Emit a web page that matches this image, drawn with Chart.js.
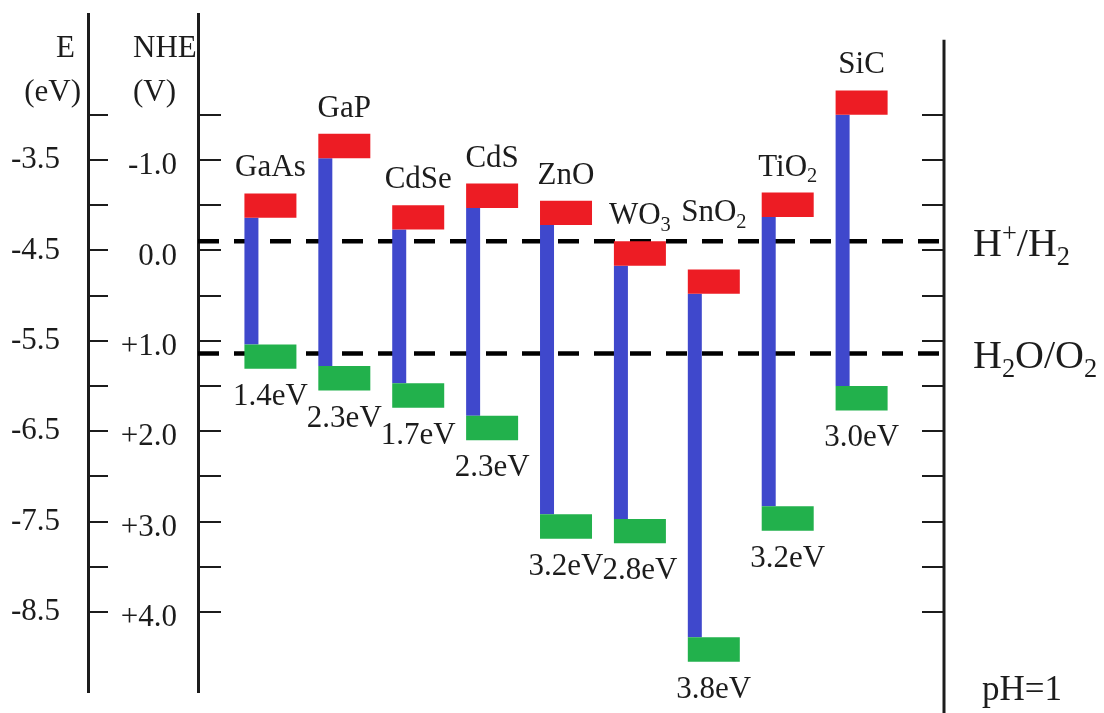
<!DOCTYPE html>
<html>
<head>
<meta charset="utf-8">
<script src="https://cdn.jsdelivr.net/npm/chart.js@4/dist/chart.umd.min.js"></script>
<style>
  html, body { margin: 0; padding: 0; background: #fff; }
  canvas { display: block; }
</style>
</head>
<body>
<canvas id="c" width="1104" height="713"></canvas>
<script>
// Semiconductors and their band edges (eV relative to vacuum)
const materials = ['GaAs', 'GaP', 'CdSe', 'CdS', 'ZnO', 'WO3', 'SnO2', 'TiO2', 'SiC'];
const conductionBand = [-4.14, -3.48, -4.27, -4.03, -4.22, -4.67, -4.98, -4.13, -3.00];
const bandGap = [1.4, 2.3, 1.7, 2.3, 3.2, 2.8, 3.8, 3.2, 3.0];

// Water redox levels at pH = 1 (eV relative to vacuum)
const redoxNames = ['H+/H2', 'H2O/O2'];
const redoxLevels = [-4.40, -5.64];

// Tick positions shared by the vacuum (E) scale and the NHE scale
const eTicks = [-3.0, -3.5, -4.0, -4.5, -5.0, -5.5, -6.0, -6.5, -7.0, -7.5, -8.0, -8.5];
const eTickText = ['', '-3.5', '', '-4.5', '', '-5.5', '', '-6.5', '', '-7.5', '', '-8.5'];
const nheTickText = ['', '-1.0', '', '0.0', '', '+1.0', '', '+2.0', '', '+3.0', '', '+4.0'];

// Valence band edge follows from the conduction band edge and the gap
const valenceBand = conductionBand.map((cb, i) => +(cb - bandGap[i]).toFixed(2));

// ---- layout / style ----
const FONT = '"Liberation Serif", "Times New Roman", serif';
const INK = '#1c1c1c';
const E_MIN = -9.385, E_MAX = -1.885;      // vertical range of the plot
const X_MIN = -0.98, X_MAX = 9.115;        // horizontal range (column units)
const BLOCK = 0.27;                        // thickness of the band-edge blocks (eV)
const GAP_SHIFT = 0.257;                   // gap bar sits at the left edge of the blocks
const RIGHT_AXIS_TOP = -2.17;              // top end of the right-hand axis line

function tickAxis(side, weight, width, tickLen, padding, texts, labelOffset) {
  return {
    type: 'linear', position: side, weight, min: E_MIN, max: E_MAX,
    afterFit: s => { s.width = width; s.paddingTop = 0; s.paddingBottom = 0; },
    afterBuildTicks: s => { s.ticks = eTicks.map(v => ({ value: v })); },
    ticks: {
      display: !!texts, autoSkip: false, padding, labelOffset: labelOffset || 0,
      color: INK, font: { family: FONT, size: 31 },
      callback: (v, i) => (texts ? texts[i] : '')
    },
    grid: { drawOnChartArea: false, drawTicks: true, tickLength: tickLen, lineWidth: 2, color: INK },
    border: { display: side === 'left', width: 3, color: INK }
  };
}

function columnAxis(shift) {
  return {
    type: 'linear', display: false, offset: false, grace: 0,
    min: X_MIN + shift, max: X_MAX + shift,
    afterFit: s => { s.paddingLeft = 0; s.paddingRight = 0; }
  };
}

function drawFormula(ctx, text, x, y, size, align) {
  const runs = [];
  for (const ch of text) {
    const kind = /\d/.test(ch) ? 'sub' : (ch === '+' ? 'sup' : 'base');
    const last = runs[runs.length - 1];
    if (last && last.kind === kind) last.t += ch; else runs.push({ kind, t: ch });
  }
  const small = size * 0.66;
  let total = 0;
  for (const r of runs) {
    ctx.font = `${r.kind === 'base' ? size : small}px ${FONT}`;
    r.w = ctx.measureText(r.t).width;
    total += r.w;
  }
  let cx = align === 'center' ? x - total / 2 : x;
  ctx.textAlign = 'left';
  ctx.textBaseline = 'alphabetic';
  for (const r of runs) {
    ctx.font = `${r.kind === 'base' ? size : small}px ${FONT}`;
    const dy = r.kind === 'sub' ? size * 0.22 : (r.kind === 'sup' ? -size * 0.36 : 0);
    ctx.fillText(r.t, cx, y + dy);
    cx += r.w;
  }
}

function drawText(ctx, text, x, y, size, align) {
  ctx.font = `${size}px ${FONT}`;
  ctx.textAlign = align;
  ctx.textBaseline = 'alphabetic';
  ctx.fillText(text, x, y);
}

const annotations = {
  id: 'bandText',
  afterDraw(chart) {
    const { ctx } = chart;
    const xs = chart.scales.x, ys = chart.scales.yE, yr = chart.scales.yR;
    ctx.save();
    ctx.fillStyle = INK;

    // right-hand axis line
    ctx.strokeStyle = INK;
    ctx.lineWidth = 3;
    ctx.beginPath();
    ctx.moveTo(yr.left, ys.getPixelForValue(RIGHT_AXIS_TOP));
    ctx.lineTo(yr.left, chart.height);
    ctx.stroke();

    // axis titles
    drawText(ctx, 'E', 75, 57, 31, 'right');
    drawText(ctx, '(eV)', 81, 101, 31, 'right');
    drawText(ctx, 'NHE', 133, 57, 31, 'left');
    drawText(ctx, '(V)', 133, 101, 31, 'left');

    const hLine = ys.getPixelForValue(redoxLevels[0]);
    materials.forEach((name, i) => {
      const cx = xs.getPixelForValue(i);
      // material name above the conduction band block, kept clear of the H+/H2 line
      const top = ys.getPixelForValue(conductionBand[i] + BLOCK);
      let base = top - 17;
      if (base + 8 > hLine - 3 && base - 24 < hLine + 3) base = hLine - 20;
      drawFormula(ctx, name, cx, base, 31, 'center');
      // band gap below the valence band block
      const bottom = ys.getPixelForValue(valenceBand[i] - BLOCK);
      drawText(ctx, bandGap[i].toFixed(1) + 'eV', cx, bottom + 36, 31, 'center');
    });

    // redox level names
    redoxNames.forEach((name, i) => {
      drawFormula(ctx, name, 973, ys.getPixelForValue(redoxLevels[i]) + 15, 40, 'left');
    });
    drawText(ctx, 'pH=1', 982, 700, 35, 'left');
    ctx.restore();
  }
};

const columns = materials.map((m, i) => i);

new Chart(document.getElementById('c'), {
  type: 'bar',
  data: {
    datasets: [
      {
        label: 'Conduction band',
        data: columns.map(i => ({ x: i, y: [conductionBand[i], conductionBand[i] + BLOCK] })),
        backgroundColor: '#ED1C24', grouped: false, maxBarThickness: 52,
        inflateAmount: 0, borderWidth: 0, order: 0,
        xAxisID: 'x', yAxisID: 'yE'
      },
      {
        label: 'Valence band',
        data: columns.map(i => ({ x: i, y: [valenceBand[i] - BLOCK, valenceBand[i]] })),
        backgroundColor: '#22B14C', grouped: false, maxBarThickness: 52,
        inflateAmount: 0, borderWidth: 0, order: 0,
        xAxisID: 'x', yAxisID: 'yE'
      },
      {
        label: 'Band gap',
        data: columns.map(i => ({ x: i, y: [valenceBand[i], conductionBand[i]] })),
        backgroundColor: '#3F48CC', grouped: false, maxBarThickness: 14,
        inflateAmount: 0, borderWidth: 0, order: 1,
        xAxisID: 'xb', yAxisID: 'yE'
      },
      ...redoxLevels.map((lvl, i) => ({
        type: 'line',
        label: redoxNames[i],
        data: [{ x: X_MIN, y: lvl }, { x: X_MAX, y: lvl }],
        borderColor: '#000', borderWidth: 4.5, borderDash: [21, 15],
        borderCapStyle: 'butt', pointRadius: 0, tension: 0, order: 2,
        xAxisID: 'x', yAxisID: 'yE'
      }))
    ]
  },
  options: {
    responsive: false,
    animation: false,
    layout: { padding: { top: 14, bottom: 21, left: 0, right: 0 } },
    plugins: { legend: { display: false }, tooltip: { enabled: false } },
    scales: {
      x: columnAxis(0),
      xb: columnAxis(GAP_SHIFT),
      yE: tickAxis('left', 2, 88, -20, 48, eTickText, 0),
      yN: tickAxis('left', 1, 110, -23, 44, nheTickText, 6),
      yR: tickAxis('right', 1, 160, -22, 0, null, 0)
    }
  },
  plugins: [annotations]
});
</script>
</body>
</html>
